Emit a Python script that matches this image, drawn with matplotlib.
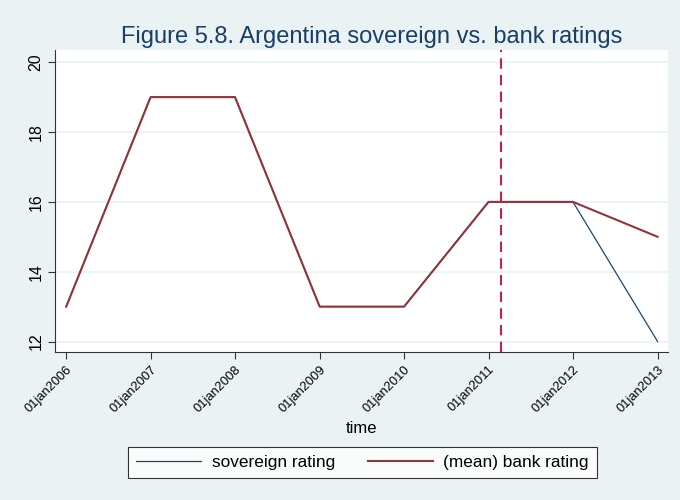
import pandas as pd
import matplotlib
matplotlib.use("Agg")
import matplotlib.pyplot as plt

plt.rcParams['font.family'] = ['Liberation Sans', 'DejaVu Sans']

# yearly observations (01 January of each year)
years = ["2006", "2007", "2008", "2009", "2010", "2011", "2012", "2013"]
sovereign = [13, 19, 19, 13, 13, 16, 16, 12]
bank = [13, 19, 19, 13, 13, 16, 16, 15]
event_date = "2011-02-22"
y_ticks = [12, 14, 16, 18, 20]

dates = pd.to_datetime([y + "-01-01" for y in years])

bg = "#eaf2f3"
fig = plt.figure(figsize=(6.8, 5), dpi=100, facecolor=bg)
ax = fig.add_axes([0.081, 0.296, 0.901, 0.604])
ax.set_facecolor("white")

ax.plot(dates, sovereign, color="#1a476f", lw=0.9, label="sovereign rating", zorder=3)
ax.plot(dates, bank, color="#90353b", lw=1.5, label="(mean) bank rating", zorder=4)
ax.axvline(pd.Timestamp(event_date), color="#d01c4b", lw=1.5, ls=(0, (5, 3)), zorder=5)

ax.set_xlim(dates[0] - pd.Timedelta(days=48), dates[-1] + pd.Timedelta(days=44))
ax.set_ylim(11.7, 20.35)

ax.set_yticks(y_ticks)
ax.grid(axis="y", color=bg, lw=1.2, zorder=0)
ax.set_xticks(dates)
ax.set_xticklabels([d.strftime("%d%b%Y").lower() for d in dates])

for lab in ax.get_yticklabels():
    lab.set_rotation(90)
    lab.set_va("center")
for lab in ax.get_xticklabels():
    lab.set_rotation(45)
    lab.set_ha("right")
    lab.set_rotation_mode("anchor")

ax.tick_params(axis="both", direction="out", length=5, width=0.8, color="#333333",
               labelsize=9.3, labelcolor="black")
ax.tick_params(axis="y", labelsize=11.5)

for side in ["top", "right"]:
    ax.spines[side].set_visible(False)
for side in ["left", "bottom"]:
    ax.spines[side].set_color("#333333")
    ax.spines[side].set_linewidth(0.8)

ax.set_xlabel("time", fontsize=12, labelpad=4)
fig.text(0.547, 0.926, "Figure 5.8. Argentina sovereign vs. bank ratings", fontsize=17,
         color="#1a3f66", ha="center", va="center")

leg = fig.legend(loc="center", bbox_to_anchor=(0.533, 0.075), ncol=2, fontsize=12.4,
                 frameon=True, fancybox=False, edgecolor="black", handlelength=3.8,
                 columnspacing=1.9, borderpad=0.45, handletextpad=0.6)
leg.get_frame().set_linewidth(0.8)

fig.savefig("out.png", dpi=100, facecolor=bg)
